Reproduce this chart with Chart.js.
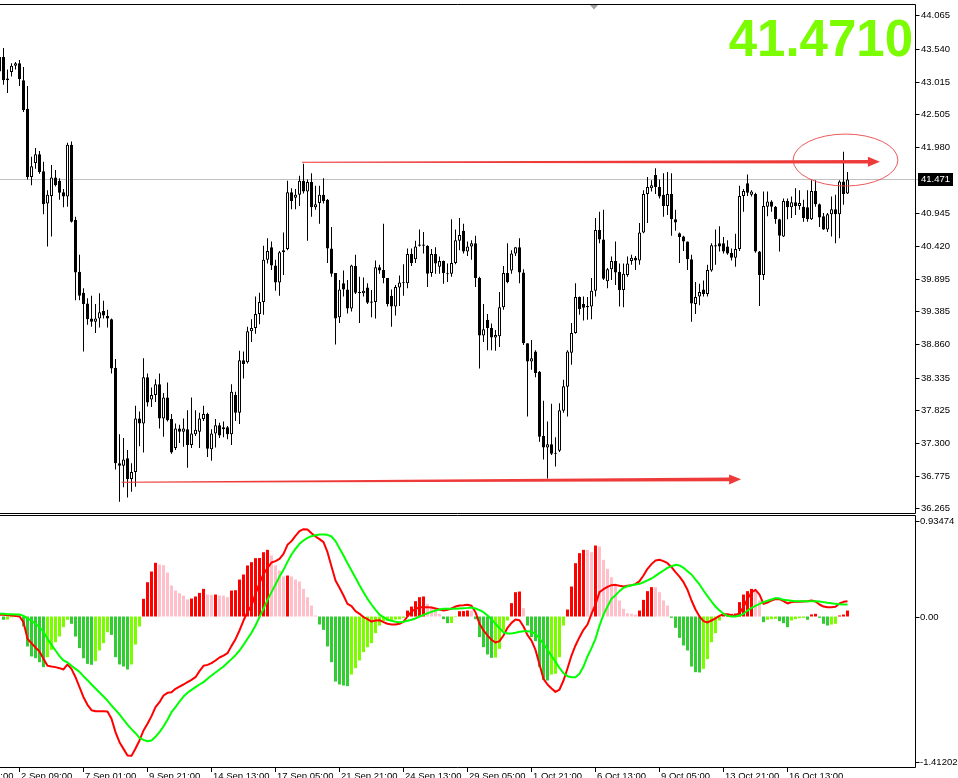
<!DOCTYPE html>
<html>
<head>
<meta charset="utf-8">
<title>Price chart with oscillator</title>
<script src="https://cdn.jsdelivr.net/npm/chart.js@4.4.1/dist/chart.umd.min.js"></script>
<style>
  html, body { margin:0; padding:0; background:#ffffff; overflow:hidden; }
  #wrap { position:relative; width:958px; height:778px; background:#ffffff; }
  #priceCanvas { position:absolute; left:0; top:0; width:958px; height:514px; }
  #oscCanvas { position:absolute; left:0; top:514px; width:958px; height:264px; }
</style>
</head>
<body>
<div id="wrap">
  <canvas id="priceCanvas" width="958" height="514"></canvas>
  <canvas id="oscCanvas" width="958" height="264"></canvas>
</div>
<script>
// ---------------- DATA ----------------
const FIRST_BAR = -1; // index of the first (partly hidden) bar

const openP = [
43.41,43.41,43.04,43.17,43.27,43.31,43.04,42.59,41.51,41.73,
41.87,41.60,41.09,41.21,41.50,41.45,41.27,41.20,42.02,40.83,
40.01,39.68,39.51,39.27,39.22,39.27,39.39,39.31,39.26,38.49,
36.98,36.94,37.06,36.73,36.84,37.69,37.61,38.34,37.99,38.06,
38.23,37.69,38.02,37.68,37.22,37.53,37.48,37.52,37.27,37.44,
37.48,37.68,37.76,37.20,37.45,37.58,37.55,37.55,37.44,38.06,
37.78,38.61,38.58,39.07,39.12,39.34,39.53,40.20,40.40,40.11,
39.84,40.32,40.37,41.27,41.18,41.23,41.45,41.28,41.43,41.03,
41.10,41.23,41.15,40.38,39.99,39.29,39.83,39.73,39.43,40.10,
39.69,39.67,39.76,39.54,39.53,40.08,40.04,39.91,39.63,39.46,
39.76,39.83,39.83,40.29,40.21,40.42,40.42,40.42,39.99,40.29,
40.09,40.18,39.98,39.98,40.15,40.50,40.66,40.33,40.41,40.46,
39.91,39.00,39.25,39.12,38.97,38.99,39.45,39.99,40.03,40.30,
40.40,40.00,38.88,38.59,38.75,38.43,37.41,37.23,37.28,37.14,
37.18,37.81,38.19,38.73,39.04,39.61,39.50,39.47,39.46,39.71,
40.67,40.52,39.86,40.05,40.18,40.01,39.72,39.96,40.18,40.23,
40.19,40.63,41.24,41.33,41.54,41.35,41.23,41.05,41.24,40.84,
40.62,40.57,40.49,40.21,39.50,39.62,39.73,39.66,40.03,40.41,
40.46,40.46,40.41,40.31,40.23,40.37,41.21,41.41,41.23,41.24,
40.33,39.96,41.04,41.12,41.04,40.84,40.57,41.13,41.03,41.11,
41.05,41.04,41.03,40.84,41.29,41.08,40.89,40.68,40.92,41.00,
40.92,41.44,41.25
];
const highP = [
43.49,43.55,43.21,43.31,43.33,43.36,43.25,42.95,41.83,41.97,
41.92,41.75,41.30,41.70,41.62,41.49,41.32,42.05,42.07,40.88,
40.28,39.75,39.59,39.63,39.50,39.67,39.55,39.41,39.27,38.63,
37.44,37.38,37.19,36.98,37.89,37.80,38.64,38.40,38.18,38.31,
38.40,38.09,38.26,37.76,37.61,37.59,37.69,37.82,38.02,37.82,
37.78,37.89,37.78,37.52,37.68,37.62,37.64,37.57,38.23,38.11,
38.76,38.75,39.14,39.26,39.62,39.68,40.42,40.54,40.49,40.20,
40.34,40.63,41.45,41.33,41.32,41.53,41.72,41.47,41.57,41.37,
41.37,41.49,41.16,40.72,39.99,39.88,40.03,39.88,40.12,40.28,
39.93,39.92,39.83,39.72,40.19,40.12,40.77,39.91,39.73,39.80,
39.95,40.13,40.38,40.38,40.50,40.68,40.64,40.43,40.37,40.40,
40.25,40.19,40.14,40.84,40.68,40.86,40.77,40.49,40.51,40.58,
39.93,39.50,39.34,39.19,39.09,39.69,40.10,40.46,40.35,40.40,
40.54,40.05,38.88,38.93,38.77,38.44,37.97,37.64,37.92,37.39,
37.93,38.30,38.77,39.20,39.83,39.62,39.62,39.61,39.91,40.86,
40.96,40.99,40.07,40.25,40.49,40.14,40.14,40.25,40.28,40.26,
40.78,41.30,41.51,41.46,41.65,41.47,41.57,41.59,41.57,40.99,
40.63,40.58,40.49,40.28,39.85,39.82,39.87,40.12,40.46,40.68,
40.73,40.56,40.51,40.38,40.61,41.37,41.32,41.55,41.30,41.26,
40.34,41.28,41.28,41.14,41.05,40.85,41.17,41.17,41.20,41.33,
41.30,41.15,41.30,41.46,41.46,41.09,40.94,40.94,41.20,41.23,
41.46,41.91,41.59
];
const lowP = [
43.12,42.97,42.84,43.10,43.21,42.95,42.54,41.47,41.38,41.64,
41.56,40.92,40.41,40.57,41.36,41.15,41.03,41.04,40.79,39.56,
39.56,38.75,39.17,39.14,39.04,39.13,39.27,39.13,38.40,36.88,
36.37,36.60,36.44,36.53,36.61,37.25,37.15,37.88,37.87,37.95,
37.53,37.40,37.64,37.13,37.19,37.30,37.24,36.91,37.22,37.41,
37.22,37.65,37.08,37.02,37.23,37.38,37.39,37.36,37.27,37.65,
37.60,38.32,38.56,38.90,39.03,39.18,39.33,40.14,40.04,39.71,
39.63,39.96,40.35,41.00,41.00,41.05,41.25,40.50,40.88,40.99,
40.77,41.09,40.15,39.93,38.86,39.20,39.62,39.35,39.38,39.66,
39.20,39.62,39.50,39.29,39.27,39.98,39.83,39.46,39.14,39.32,
39.47,39.63,39.75,40.10,40.15,40.41,40.30,39.77,39.93,39.98,
39.98,39.82,39.85,39.93,40.13,40.35,40.30,40.26,40.20,39.77,
38.48,38.90,38.77,38.77,38.76,38.82,39.41,39.83,39.98,40.26,
39.83,38.85,37.72,38.46,38.34,37.32,37.04,36.74,37.11,36.93,
37.16,37.78,37.72,38.54,39.03,39.33,39.24,39.25,39.26,39.62,
40.46,39.88,39.75,39.88,39.80,39.46,39.45,39.93,40.12,40.04,
40.12,40.62,40.78,41.28,41.24,41.17,40.88,40.91,40.58,40.66,
40.15,40.34,40.04,39.22,39.34,39.48,39.62,39.62,40.01,40.12,
40.33,40.30,40.28,40.19,40.09,40.34,40.96,41.21,41.20,40.31,
39.47,39.88,40.89,40.96,40.77,40.33,40.56,40.84,40.86,40.91,
40.99,40.80,40.80,40.83,41.04,40.72,40.67,40.64,40.57,40.46,
40.54,41.07,41.24
];
const closeP = [
43.18,43.04,43.07,43.27,43.31,43.06,42.57,41.51,41.68,41.87,
41.59,41.08,41.23,41.50,41.38,41.26,41.20,42.02,40.80,40.00,
39.63,39.50,39.26,39.22,39.27,39.37,39.32,39.27,38.48,36.98,
36.94,37.04,36.73,36.84,37.69,37.61,38.34,37.94,38.06,38.23,
37.69,38.02,37.66,37.15,37.53,37.48,37.53,37.27,37.45,37.51,
37.69,37.76,37.21,37.45,37.58,37.42,37.52,37.44,38.11,37.78,
38.61,38.55,39.07,39.12,39.34,39.53,40.20,40.34,40.11,39.84,
40.32,40.35,41.27,41.13,41.23,41.45,41.28,41.43,41.03,41.08,
41.23,41.13,40.38,39.98,39.27,39.73,39.73,39.43,40.11,39.68,
39.67,39.71,39.52,39.52,40.08,40.03,39.91,39.50,39.46,39.77,
39.84,39.84,40.29,40.15,40.41,40.44,40.44,39.98,40.29,40.14,
40.18,39.99,39.97,40.15,40.51,40.59,40.33,40.41,40.46,39.91,
39.00,39.10,39.12,38.97,39.01,39.45,39.99,39.85,40.30,40.40,
40.00,38.88,38.59,38.64,38.41,37.40,37.23,37.28,37.13,37.13,
37.82,38.20,38.75,39.04,39.61,39.42,39.44,39.45,39.71,40.67,
40.52,39.90,40.05,40.18,40.00,39.72,39.98,40.14,40.23,40.19,
40.63,41.24,41.35,41.38,41.35,41.20,41.05,41.24,40.84,40.79,
40.56,40.49,40.21,39.51,39.61,39.69,39.66,40.04,40.43,40.43,
40.41,40.33,40.30,40.23,40.37,41.21,41.29,41.26,41.28,40.33,
39.96,41.05,41.12,41.04,40.84,40.58,41.13,41.03,41.11,41.05,
41.10,40.86,40.84,41.29,41.08,40.87,40.68,40.92,41.00,40.92,
41.44,41.24,41.471
];

// oscillator histogram and its two lines
const histValues = [
0,-0.032,-0.030,-0.008,-0.004,-0.002,-0.097,-0.292,-0.389,-0.406,
-0.445,-0.493,-0.396,-0.325,-0.250,-0.195,-0.104,-0.032,-0.071,-0.195,
-0.308,-0.406,-0.461,-0.470,-0.435,-0.331,-0.260,-0.153,-0.179,-0.396,
-0.467,-0.487,-0.516,-0.467,-0.273,-0.097,0.172,0.334,0.438,0.523,
0.506,0.500,0.428,0.302,0.253,0.227,0.204,0.166,0.175,0.195,
0.230,0.269,0.214,0.211,0.214,0.204,0.203,0.188,0.253,0.256,
0.360,0.409,0.497,0.529,0.568,0.570,0.626,0.649,0.594,0.497,
0.448,0.390,0.399,0.390,0.360,0.341,0.269,0.188,0.107,0.010,
-0.078,-0.130,-0.292,-0.445,-0.633,-0.662,-0.672,-0.678,-0.565,-0.503,
-0.428,-0.347,-0.299,-0.260,-0.162,-0.088,-0.045,-0.039,-0.035,-0.030,
-0.028,-0.013,0.058,0.097,0.149,0.188,0.195,0.123,0.097,0.075,
0.026,-0.026,-0.065,-0.064,-0.006,0.052,0.053,0.058,0.057,-0.026,
-0.201,-0.299,-0.370,-0.402,-0.400,-0.315,-0.136,-0.039,0.130,0.237,
0.243,0.081,-0.088,-0.201,-0.240,-0.493,-0.617,-0.623,-0.565,-0.558,
-0.396,-0.088,0.068,0.292,0.519,0.617,0.649,0.648,0.626,0.691,
0.682,0.552,0.464,0.383,0.312,0.156,0.075,0.032,0.026,0.019,
0.058,0.162,0.247,0.286,0.285,0.237,0.156,0.107,-0.013,-0.110,
-0.208,-0.282,-0.331,-0.487,-0.542,-0.545,-0.510,-0.415,-0.250,-0.162,
-0.039,0.020,0.023,0.026,0.029,0.140,0.214,0.247,0.269,0.253,
0.156,-0.055,-0.032,-0.026,-0.023,-0.045,-0.065,-0.104,-0.039,-0.026,
-0.016,-0.013,-0.032,0.020,0.026,-0.013,-0.071,-0.088,-0.078,-0.071,
0.010,0.019,0.058
];
const macdRed = [
0.018,0.016,0.013,0.010,0.006,0.000,-0.055,-0.217,-0.260,-0.302,
-0.341,-0.412,-0.480,-0.487,-0.493,-0.503,-0.516,-0.467,-0.510,-0.591,
-0.688,-0.786,-0.860,-0.912,-0.922,-0.922,-0.922,-0.925,-0.996,-1.126,
-1.224,-1.289,-1.353,-1.357,-1.285,-1.207,-1.110,-1.045,-0.970,-0.883,
-0.834,-0.769,-0.743,-0.737,-0.704,-0.682,-0.662,-0.639,-0.617,-0.591,
-0.532,-0.480,-0.471,-0.454,-0.428,-0.399,-0.380,-0.357,-0.286,-0.221,
-0.136,-0.039,0.045,0.107,0.221,0.325,0.415,0.471,0.526,0.539,
0.562,0.610,0.698,0.734,0.785,0.831,0.850,0.847,0.811,0.779,
0.753,0.724,0.626,0.487,0.351,0.279,0.204,0.123,0.101,0.052,
0.026,-0.006,-0.026,-0.049,-0.039,-0.036,-0.055,-0.071,-0.078,-0.078,
-0.071,-0.049,0.000,0.049,0.071,0.091,0.091,0.091,0.088,0.078,
0.068,0.058,0.065,0.078,0.097,0.107,0.110,0.114,0.104,0.042,
-0.071,-0.136,-0.185,-0.227,-0.253,-0.240,-0.185,-0.110,-0.062,-0.029,
-0.036,-0.097,-0.182,-0.234,-0.325,-0.467,-0.607,-0.662,-0.701,-0.734,
-0.711,-0.623,-0.506,-0.380,-0.282,-0.201,-0.130,-0.078,0.026,0.117,
0.237,0.266,0.289,0.305,0.308,0.299,0.292,0.299,0.305,0.315,
0.344,0.399,0.464,0.510,0.545,0.552,0.539,0.519,0.480,0.432,
0.389,0.334,0.260,0.156,0.068,0.000,-0.045,-0.058,-0.039,-0.019,
0.006,0.023,0.023,0.013,0.006,0.036,0.091,0.172,0.234,0.260,
0.214,0.123,0.136,0.156,0.169,0.169,0.149,0.127,0.140,0.143,
0.143,0.146,0.149,0.156,0.146,0.117,0.097,0.091,0.091,0.094,
0.127,0.143,0.149
];
const macdGreen = [
0.027,0.026,0.023,0.023,0.019,0.019,0.006,-0.019,-0.042,-0.071,
-0.104,-0.149,-0.217,-0.276,-0.331,-0.386,-0.428,-0.448,-0.480,-0.510,
-0.539,-0.581,-0.620,-0.662,-0.701,-0.740,-0.779,-0.818,-0.867,-0.909,
-0.954,-1.003,-1.052,-1.097,-1.136,-1.181,-1.201,-1.214,-1.207,-1.172,
-1.126,-1.071,-1.006,-0.932,-0.883,-0.828,-0.779,-0.743,-0.714,-0.688,
-0.662,-0.639,-0.607,-0.574,-0.545,-0.516,-0.487,-0.451,-0.415,-0.377,
-0.331,-0.276,-0.217,-0.159,-0.088,-0.006,0.075,0.162,0.237,0.312,
0.389,0.454,0.532,0.604,0.659,0.708,0.740,0.766,0.782,0.792,
0.798,0.798,0.795,0.779,0.734,0.665,0.594,0.519,0.448,0.377,
0.305,0.237,0.172,0.117,0.065,0.019,-0.006,-0.032,-0.042,-0.052,
-0.055,-0.052,-0.042,-0.032,-0.019,0.000,0.016,0.032,0.045,0.058,
0.068,0.075,0.075,0.075,0.075,0.078,0.081,0.084,0.088,0.078,
0.062,0.042,0.010,-0.026,-0.071,-0.114,-0.153,-0.166,-0.166,-0.159,
-0.149,-0.143,-0.143,-0.149,-0.169,-0.214,-0.266,-0.325,-0.383,-0.441,
-0.500,-0.552,-0.581,-0.591,-0.591,-0.558,-0.487,-0.389,-0.308,-0.217,
-0.088,0.019,0.097,0.172,0.208,0.247,0.279,0.295,0.305,0.312,
0.318,0.334,0.351,0.370,0.396,0.422,0.448,0.474,0.490,0.503,
0.497,0.474,0.441,0.409,0.360,0.312,0.253,0.198,0.146,0.097,
0.058,0.026,0.006,0.000,0.000,0.010,0.026,0.058,0.084,0.104,
0.123,0.140,0.153,0.166,0.179,0.175,0.162,0.159,0.153,0.149,
0.149,0.149,0.149,0.149,0.149,0.146,0.140,0.133,0.130,0.123,
0.120,0.117,0.117
];

// axis tick values and labels
const priceTicks = [44.065, 43.540, 43.015, 42.505, 41.980, 40.945, 40.420, 39.895, 39.385, 38.860, 38.335, 37.825, 37.300, 36.775, 36.265];
const oscTicks = [0.93474, 0.00, -1.41202];
const oscTickText = ['0.93474', '0.00', '-1.41202'];
const timeLabels = ['28 Aug 17:00', '2 Sep 09:00', '7 Sep 01:00', '9 Sep 21:00', '14 Sep 13:00', '17 Sep 05:00', '21 Sep 21:00', '24 Sep 13:00', '29 Sep 05:00', '1 Oct 21:00', '6 Oct 13:00', '9 Oct 05:00', '13 Oct 21:00', '16 Oct 13:00'];
const timeLabelBars = [-12, 4, 20, 36, 52, 68, 84, 100, 116, 132, 148, 164, 180, 196];

// drawn annotations (bar index / price coordinates)
const trendArrows = [
  { fromBar: 74.6, fromPrice: 41.742, toBar: 219.1, toPrice: 41.751 },
  { fromBar: 29.55, fromPrice: 36.679, toBar: 184.4, toPrice: 36.726 }
];
const highlightEllipse = { bar: 210.5, price: 41.778, barRadius: 13.1, priceRadius: 0.411 };

// ---------------- STYLE / LAYOUT ----------------
const X_MIN = -0.875, X_MAX = 227.875;
const PRICE_MIN = 36.1932, PRICE_MAX = 44.2311;
const OSC_MIN = -1.4654, OSC_MAX = 0.9786;
const AXIS_FONT = '9.5px "Liberation Sans", Arial, sans-serif';
const RED = '#FF0000', PINK = '#FFC0CB', DKGREEN = '#32CD32', LTGREEN = '#7CFC00';

// ---------------- BUILD ----------------
const barX = i => FIRST_BAR + i;
const bodyData = openP.map((o, i) => ({ x: barX(i), y: [o, closeP[i]] }));
const wickData = openP.map((o, i) => ({ x: barX(i), y: [lowP[i], highP[i]] }));
const bodyFill = openP.map((o, i) => closeP[i] >= o ? '#FFFFFF' : '#000000');

const histData = histValues.map((v, i) => ({ x: barX(i), y: v }));
const histColors = histValues.map((v, i) => {
  const prev = i > 0 ? histValues[i - 1] : 0;
  if (v >= 0) return v > prev ? RED : PINK;
  return v < prev ? DKGREEN : LTGREEN;
});
const redLineData = macdRed.map((v, i) => ({ x: barX(i), y: v }));
const greenLineData = macdGreen.map((v, i) => ({ x: barX(i), y: v }));
const lastClose = closeP[closeP.length - 1];

function drawArrow(ctx, x0, y0, x1, y1, w0, w1, headLen, headHalf, color) {
  const ang = Math.atan2(y1 - y0, x1 - x0);
  const len = Math.hypot(x1 - x0, y1 - y0);
  ctx.save();
  ctx.translate(x0, y0);
  ctx.rotate(ang);
  ctx.fillStyle = color;
  ctx.beginPath();
  ctx.moveTo(0, -w0 / 2);
  ctx.lineTo(len - headLen, -w1 / 2);
  ctx.lineTo(len - headLen, -headHalf);
  ctx.lineTo(len, 0);
  ctx.lineTo(len - headLen, headHalf);
  ctx.lineTo(len - headLen, w1 / 2);
  ctx.lineTo(0, w0 / 2);
  ctx.closePath();
  ctx.fill();
  ctx.restore();
}

const priceDeco = {
  id: 'priceDeco',
  beforeDatasetsDraw(chart) {
    const { ctx, chartArea: a, scales: { y } } = chart;
    const py = Math.round(y.getPixelForValue(lastClose)) + 0.5;
    ctx.save();
    ctx.strokeStyle = '#C0C0C0';
    ctx.lineWidth = 1;
    ctx.beginPath();
    ctx.moveTo(a.left, py);
    ctx.lineTo(a.right + 4, py);
    ctx.stroke();
    ctx.restore();
  },
  afterDatasetsDraw(chart) {
    const { ctx, chartArea: a, scales: { x, y } } = chart;
    ctx.save();
    ctx.beginPath();
    ctx.rect(a.left, a.top, a.right - a.left, a.bottom - a.top);
    ctx.clip();
    trendArrows.forEach(t => {
      drawArrow(ctx,
        x.getPixelForValue(t.fromBar), y.getPixelForValue(t.fromPrice),
        x.getPixelForValue(t.toBar), y.getPixelForValue(t.toPrice),
        1, 3.6, 12, 5, '#EF3A3A');
    });
    const e = highlightEllipse;
    const cx = x.getPixelForValue(e.bar), cy = y.getPixelForValue(e.price);
    const rx = x.getPixelForValue(e.bar + e.barRadius) - cx;
    const ry = cy - y.getPixelForValue(e.price + e.priceRadius);
    ctx.strokeStyle = 'rgba(232,72,72,0.9)';
    ctx.lineWidth = 1;
    ctx.beginPath();
    ctx.ellipse(cx, cy, rx, ry, 0, 0, Math.PI * 2);
    ctx.stroke();
    ctx.restore();
  },
  afterDraw(chart) {
    const { ctx, chartArea: a, scales: { y } } = chart;
    ctx.save();
    ctx.strokeStyle = '#000';
    ctx.lineWidth = 1;
    ctx.beginPath();
    ctx.moveTo(0, a.top - 0.5); ctx.lineTo(a.right + 0.5, a.top - 0.5);
    ctx.moveTo(a.right + 0.5, a.top - 0.5); ctx.lineTo(a.right + 0.5, a.bottom + 0.5);
    ctx.moveTo(0, a.bottom + 0.5); ctx.lineTo(a.right + 0.5, a.bottom + 0.5);
    ctx.stroke();

    // shift marker
    ctx.fillStyle = '#A0A0A0';
    ctx.beginPath();
    ctx.moveTo(590, a.top); ctx.lineTo(598, a.top); ctx.lineTo(594, a.top + 4.5);
    ctx.closePath(); ctx.fill();

    ctx.font = AXIS_FONT;
    ctx.textAlign = 'left';
    ctx.textBaseline = 'middle';
    ctx.fillStyle = '#000';
    priceTicks.forEach(v => {
      const py = Math.round(y.getPixelForValue(v)) + 0.5;
      ctx.beginPath();
      ctx.moveTo(a.right + 0.5, py); ctx.lineTo(a.right + 4.5, py);
      ctx.stroke();
      ctx.fillText(v.toFixed(3), a.right + 6, py);
    });

    // current price box
    const cy = Math.round(y.getPixelForValue(lastClose));
    ctx.fillStyle = '#000';
    ctx.fillRect(a.right + 3, cy - 6, 35, 13);
    ctx.fillStyle = '#FFF';
    ctx.fillText(lastClose.toFixed(3), a.right + 6, cy + 0.5);

    // big price readout
    ctx.font = 'bold 51px "Liberation Sans", Arial, sans-serif';
    ctx.textAlign = 'right';
    ctx.textBaseline = 'alphabetic';
    ctx.fillStyle = '#7CFC00';
    ctx.fillText(lastClose.toFixed(4), 913, 55.5);
    ctx.restore();
  }
};

const oscDeco = {
  id: 'oscDeco',
  afterDraw(chart) {
    const { ctx, chartArea: a, scales: { x, y } } = chart;
    ctx.save();
    ctx.strokeStyle = '#000';
    ctx.lineWidth = 1;
    ctx.beginPath();
    ctx.moveTo(0, a.top - 0.5); ctx.lineTo(a.right + 0.5, a.top - 0.5);
    ctx.moveTo(a.right + 0.5, a.top - 0.5); ctx.lineTo(a.right + 0.5, a.bottom + 0.5);
    ctx.moveTo(0, a.bottom + 0.5); ctx.lineTo(a.right + 0.5, a.bottom + 0.5);
    ctx.stroke();

    ctx.font = AXIS_FONT;
    ctx.fillStyle = '#000';
    ctx.textAlign = 'left';
    ctx.textBaseline = 'middle';
    oscTicks.forEach((v, i) => {
      const py = Math.round(y.getPixelForValue(v)) + 0.5;
      ctx.beginPath();
      ctx.moveTo(a.right + 0.5, py); ctx.lineTo(a.right + 4.5, py);
      ctx.stroke();
      ctx.fillText(oscTickText[i], a.right + 5, py);
    });

    ctx.textBaseline = 'top';
    timeLabelBars.forEach((b, i) => {
      const px = Math.floor(x.getPixelForValue(b)) + 0.5;
      ctx.beginPath();
      ctx.moveTo(px, a.bottom + 0.5); ctx.lineTo(px, a.bottom + 5);
      ctx.stroke();
      ctx.fillText(timeLabels[i], px + 1.5, a.bottom + 5);
    });
    ctx.restore();
  }
};

const commonOpts = {
  responsive: false,
  animation: false,
  events: [],
  plugins: { legend: { display: false }, tooltip: { enabled: false } }
};

new Chart(document.getElementById('priceCanvas'), {
  type: 'bar',
  data: {
    datasets: [
      {
        label: 'body', data: bodyData, order: 1, grouped: false,
        backgroundColor: bodyFill, borderColor: '#000000', borderWidth: 1,
        borderSkipped: false, barThickness: 3, minBarLength: 1, inflateAmount: 0
      },
      {
        label: 'wick', data: wickData, order: 2, grouped: false,
        backgroundColor: '#000000', borderWidth: 0, barThickness: 1,
        minBarLength: 1, inflateAmount: 0
      }
    ]
  },
  options: Object.assign({}, commonOpts, {
    layout: { padding: { left: 0, right: 43, top: 5, bottom: 1 } },
    scales: {
      x: { type: 'linear', min: X_MIN, max: X_MAX, display: false, offset: false },
      y: { type: 'linear', min: PRICE_MIN, max: PRICE_MAX, display: false }
    }
  }),
  plugins: [priceDeco]
});

new Chart(document.getElementById('oscCanvas'), {
  type: 'bar',
  data: {
    datasets: [
      {
        type: 'line', label: 'signal', data: greenLineData, order: 0,
        borderColor: '#00FF00', borderWidth: 2, pointRadius: 0, tension: 0,
        borderJoinStyle: 'round', fill: false
      },
      {
        type: 'line', label: 'main', data: redLineData, order: 1,
        borderColor: '#FF0000', borderWidth: 2, pointRadius: 0, tension: 0,
        borderJoinStyle: 'round', fill: false
      },
      {
        type: 'bar', label: 'histogram', data: histData, order: 2, grouped: false,
        backgroundColor: histColors, borderWidth: 0, barThickness: 3, inflateAmount: 0
      }
    ]
  },
  options: Object.assign({}, commonOpts, {
    layout: { padding: { left: 0, right: 43, top: 2, bottom: 11 } },
    scales: {
      x: { type: 'linear', min: X_MIN, max: X_MAX, display: false, offset: false },
      y: { type: 'linear', min: OSC_MIN, max: OSC_MAX, display: false }
    }
  }),
  plugins: [oscDeco]
});
</script>
</body>
</html>
